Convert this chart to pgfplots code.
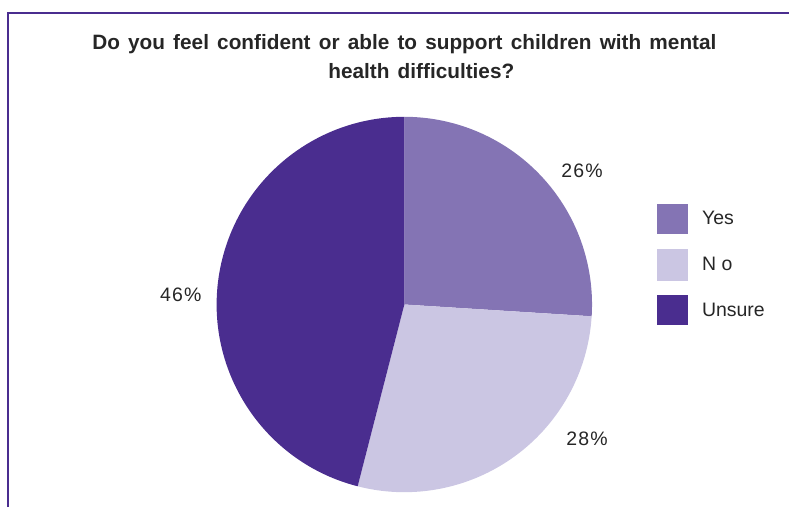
\documentclass[border=0pt]{standalone}
\usepackage{pgfplots}
\pgfplotsset{compat=1.18}
\usepackage{fontspec}
\setmainfont{Liberation Sans}
\definecolor{cyes}{HTML}{8474B4}
\definecolor{cno}{HTML}{CBC6E3}
\definecolor{cuns}{HTML}{4A2D8F}
\newcommand\tsp{\spaceskip=8.2pt\relax}
\def\vyes{26}\def\vno{28}\def\vuns{46}
\pgfmathsetmacro{\aA}{90}
\pgfmathsetmacro{\aB}{90-3.6*\vyes}
\pgfmathsetmacro{\aC}{\aB-3.6*\vno}
\pgfmathsetmacro{\aD}{\aC-3.6*\vuns}
\begin{document}
\begin{tikzpicture}
\begin{axis}[scale only axis, width=790pt, height=508pt,
  xmin=0, xmax=790, ymin=0, ymax=508, axis lines=none, clip=false]
\path (axis cs:0,0) rectangle (axis cs:790,508);
% frame
\draw[cuns, line width=2.6pt] (axis cs:8,0) -- (axis cs:8,495) -- (axis cs:790,495);
% title
\node[anchor=base, font=\fontsize{20.8}{24}\selectfont\bfseries\tsp, text=black!85] at (axis cs:405,458) {Do you feel confident or able to support children with mental};
\node[anchor=base, font=\fontsize{20.8}{24}\selectfont\bfseries\tsp, text=black!85] at (axis cs:422,429) {health difficulties?};
% pie
\fill[cyes] (axis cs:405,203) -- ++(\aA:188pt) arc[start angle=\aA, end angle=\aB, radius=188pt] -- cycle;
\fill[cno] (axis cs:405,203) -- ++(\aB:188pt) arc[start angle=\aB, end angle=\aC, radius=188pt] -- cycle;
\fill[cuns] (axis cs:405,203) -- ++(\aC:188pt) arc[start angle=\aC, end angle=\aD, radius=188pt] -- cycle;
% labels
\node[font=\fontsize{19.5}{22}\selectfont\addfontfeature{LetterSpace=6}, text=black!85] at (axis cs:583,337) {26\%};
\node[font=\fontsize{19.5}{22}\selectfont\addfontfeature{LetterSpace=6}, text=black!85] at (axis cs:588,68) {28\%};
\node[font=\fontsize{19.5}{22}\selectfont\addfontfeature{LetterSpace=6}, text=black!85] at (axis cs:181,213) {46\%};
% legend
\fill[cyes] (axis cs:658,274) rectangle (axis cs:689,304);
\fill[cno] (axis cs:658,227) rectangle (axis cs:689,259);
\fill[cuns] (axis cs:658,182) rectangle (axis cs:689,213);
\node[anchor=west, inner sep=0pt, font=\fontsize{19.5}{22}\selectfont, text=black!85] at (axis cs:703,290) {Yes};
\node[anchor=west, inner sep=0pt, font=\fontsize{19.5}{22}\selectfont, text=black!85] at (axis cs:703,244) {N o};
\node[anchor=west, inner sep=0pt, font=\fontsize{19.5}{22}\selectfont, text=black!85] at (axis cs:703,198) {Unsure};
\end{axis}
\end{tikzpicture}
\end{document}
